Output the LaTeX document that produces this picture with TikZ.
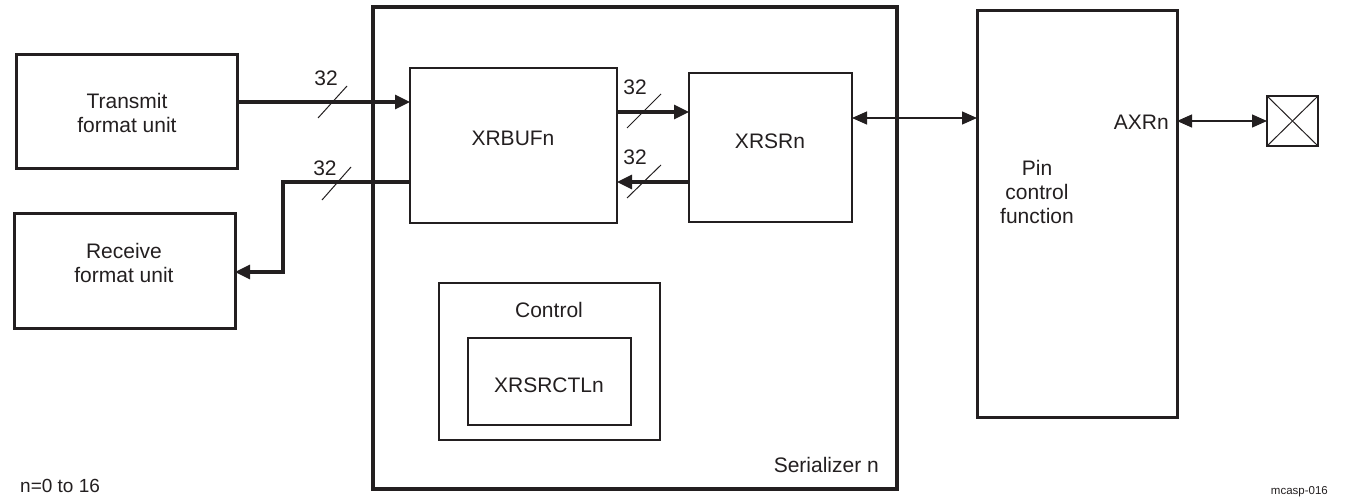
\documentclass[tikz,border=0pt]{standalone}
\usepackage{fontspec}
\setmainfont{Liberation Sans}
\usetikzlibrary{arrows.meta}
\definecolor{ink}{RGB}{35,31,32}
\begin{document}
\begin{tikzpicture}[x=1pt,y=-1pt,
  box/.style={draw=ink, line width=3pt, inner sep=0pt, outer sep=0pt},
  ibox/.style={draw=ink, line width=2pt, inner sep=0pt, outer sep=0pt},
  txt/.style={text=ink, font=\fontsize{21}{24}\selectfont, align=center, inner sep=0pt},
  bus/.style={draw=ink, line width=3.2pt, -{Triangle[length=15pt,width=14pt]}},
  sig/.style={draw=ink, line width=1.3pt, {Triangle[length=15pt,width=13pt]}-{Triangle[length=15pt,width=13pt]}},
  tick/.style={draw=ink, line width=1pt}]
\useasboundingbox (0,0) rectangle (1347,498);

% boxes
\node[box, minimum width=221pt, minimum height=114pt] (tx) at (126.5,111) {};
\node[box, minimum width=221pt, minimum height=115pt] (rx) at (124.5,270.5) {};
\node[box, line width=3.4pt, minimum width=524pt, minimum height=482pt] (ser) at (635,248) {};
\node[ibox, minimum width=207pt, minimum height=155pt] (xrbuf) at (513.5,145.5) {};
\node[ibox, minimum width=163pt, minimum height=149pt] (xrsr) at (770.5,147.5) {};
\node[ibox, minimum width=221pt, minimum height=157pt] (ctl) at (549.5,361.5) {};
\node[ibox, minimum width=163pt, minimum height=87pt] (xctl) at (549.5,381.5) {};
\node[box, minimum width=200pt, minimum height=407pt] (pin) at (1077,213.5) {};
\node[ibox, minimum width=51pt, minimum height=50pt] (pad) at (1292.5,121) {};
\draw[ink, line width=1pt] (pad.north west) -- (pad.south east);
\draw[ink, line width=1pt] (pad.south west) -- (pad.north east);

% texts
\node[txt] (ttx) at (127,113) {Transmit\\format unit};
\node[txt] (trx) at (124,263) {Receive\\format unit};
\node[txt] (txrbuf) at (513,138) {XRBUFn};
\node[txt] (txrsr) at (770,141) {XRSRn};
\node[txt] (tctl) at (549,310) {Control};
\node[txt] (txctl) at (549,385) {XRSRCTLn};
\node[txt] (tpin) at (1037,192) {Pin\\control\\function};
\node[txt, anchor=east] (taxr) at (1169,122) {AXRn};
\node[txt, anchor=east] (tser) at (879,465) {Serializer n};
\node[txt, anchor=west, font=\fontsize{19}{22}\selectfont] (tn) at (20,486) {n=0 to 16};
\node[txt, anchor=east, font=\fontsize{11.5}{14}\selectfont] (tid) at (1328,492) {mcasp-016};

% level coordinates
\coordinate (yT) at (0,102);
\coordinate (yR) at (0,182);
\coordinate (y1) at (0,112);
\coordinate (yS) at (0,118);
\coordinate (rbend) at (283,272);

% connectors
\draw[bus] (tx.east |- yT) -- (xrbuf.west |- yT);
\draw[bus] (xrbuf.west |- yR) -| (rbend) |- (rx.east |- rbend);
\draw[bus] (xrbuf.east |- y1) -- (xrsr.west |- y1);
\draw[bus] (xrsr.west |- yR) -- (xrbuf.east |- yR);
\draw[sig] (xrsr.east |- yS) -- (pin.west |- yS);
\draw[sig] (pin.east |- pad.west) -- (pad.west);

% bus width ticks and labels
\draw[tick] (318,118) -- (347,86);
\node[txt] (l1) at (326,78) {32};
\draw[tick] (322,200) -- (351,167);
\node[txt] (l2) at (325,168) {32};
\draw[tick] (627,128) -- (661,94);
\node[txt] (l3) at (635,87) {32};
\draw[tick] (627,198) -- (661,165);
\node[txt] (l4) at (635,157) {32};
\end{tikzpicture}
\end{document}
